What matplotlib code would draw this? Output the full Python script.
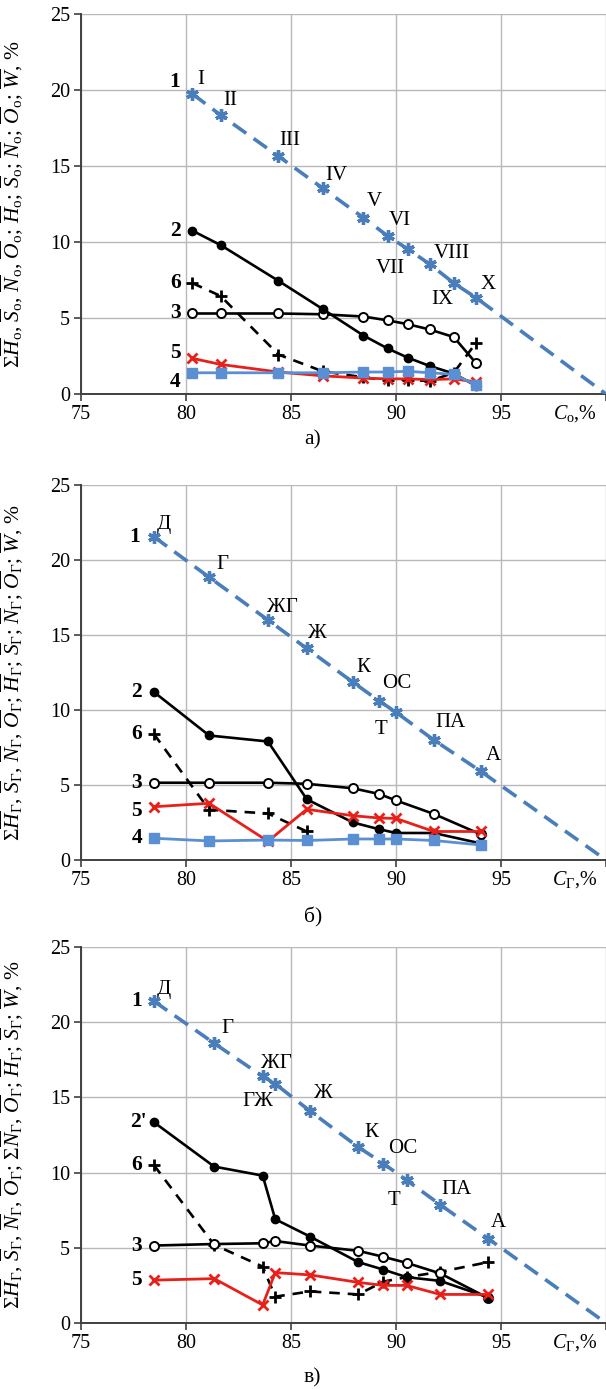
import matplotlib
matplotlib.use('Agg')
import matplotlib.pyplot as plt

plt.rcParams['font.family'] = ['Liberation Serif', 'DejaVu Serif']
plt.rcParams['mathtext.fontset'] = 'custom'
plt.rcParams['mathtext.rm'] = 'Liberation Serif'
plt.rcParams['mathtext.it'] = 'Liberation Serif:italic'
plt.rcParams['mathtext.bf'] = 'Liberation Serif:bold'

# ---- panel a) : C_o, samples I..X
x_a = [80.3, 81.65, 84.4, 86.5, 88.45, 89.6, 90.55, 91.6, 92.75, 93.8]
names_a = ['I', 'II', 'III', 'IV', 'V', 'VI', 'VII', 'VIII', 'IX', 'X']
y1_a = [19.75, 18.35, 15.65, 13.55, 11.6, 10.4, 9.55, 8.55, 7.3, 6.35]
y2_a = [10.75, 9.8, 7.45, 5.6, 3.85, 3.0, 2.4, 1.85, 1.35, 0.55]
y3_a = [5.3, 5.3, 5.3, 5.25, 5.1, 4.85, 4.6, 4.25, 3.75, 2.05]
y4_a = [1.4, 1.4, 1.4, 1.4, 1.45, 1.45, 1.5, 1.4, 1.3, 0.6]
y5_a = [2.35, 1.95, 1.45, 1.2, 1.05, 1.0, 1.0, 0.95, 1.0, 0.8]
y6_a = [7.3, 6.45, 2.6, 1.5, 1.1, 0.9, 0.95, 0.85, 1.4, 3.35]

# ---- panel б) : C_г, coal grades
x_b = [78.47, 81.1, 83.9, 85.75, 87.95, 89.2, 90.0, 91.8, 94.05]
names_b = ['Д', 'Г', 'ЖГ', 'Ж', 'К', 'ОС', 'Т', 'ПА', 'А']
y1_b = [21.55, 18.85, 16.0, 14.1, 11.85, 10.6, 9.85, 8.0, 5.9]
y2_b = [11.2, 8.3, 7.9, 4.05, 2.5, 2.05, 1.8, 1.8, 1.1]
y3_b = [5.15, 5.15, 5.15, 5.08, 4.78, 4.4, 3.97, 3.07, 1.7]
y4_b = [1.45, 1.27, 1.33, 1.3, 1.4, 1.4, 1.4, 1.3, 1.0]
y5_b = [3.55, 3.78, 1.25, 3.38, 2.95, 2.8, 2.77, 1.9, 1.9]
x6_b = [78.47, 81.1, 83.9, 85.75]
y6_b = [8.4, 3.35, 3.1, 1.9]

# ---- panel в) : C_г, coal grades incl. ГЖ
x_c = [78.47, 81.34, 83.65, 84.25, 85.9, 88.2, 89.4, 90.5, 92.1, 94.4]
names_c = ['Д', 'Г', 'ЖГ', 'ГЖ', 'Ж', 'К', 'ОС', 'Т', 'ПА', 'А']
y1_c = [21.4, 18.6, 16.4, 15.9, 14.1, 11.7, 10.6, 9.5, 7.87, 5.6]
y2_c = [13.35, 10.4, 9.8, 6.9, 5.75, 4.05, 3.55, 3.05, 2.8, 1.7]
y3_c = [5.15, 5.25, 5.3, 5.45, 5.15, 4.8, 4.4, 4.0, 3.3, 1.65]
y5_c = [2.85, 2.95, 1.2, 3.35, 3.2, 2.7, 2.5, 2.5, 1.9, 1.9]
y6_c = [10.5, 5.2, 3.75, 1.75, 2.1, 1.9, 2.75, 3.05, 3.4, 4.05]

# end of the dashed line 1 (C = 100 %)
end_x, end_y = 100, 0

BLUE = '#4a7ebb'
BLUE4 = '#5b8fd3'
RED = '#e8201a'

# label offsets in pixels (dx, dy) for the sample names
offs_a = [(8, 14), (10, 15), (11, 16), (14, 13), (11, 16), (12, 15), (-17, -20), (22, 11), (-11, -16), (12, 13)]
offs_b = [(10, 12), (13, 13), (15, 12), (11, 15), (10, 15), (18, 17), (-15, -17), (17, 17), (12, 16)]
offs_c = [(10, 12), (13, 15), (14, 13), (-17, -18), (13, 17), (13, 15), (19, 15), (-13, -20), (16, 15), (10, 16)]


def sub(letter, s):
    return r'$\overline{%s}_{\mathrm{%s}}$' % (letter, s)


fig = plt.figure(figsize=(6.06, 13.9), dpi=100)
L, W = 0.1337, 0.8663
ax_a = fig.add_axes([L, 0.7165, W, 0.2734])
ax_b = fig.add_axes([L, 0.3813, W, 0.2698])
ax_c = fig.add_axes([L, 0.0482, W, 0.2705])


def setup(ax, xsub, ylabel):
    ax.set_xlim(75, 100)
    ax.set_ylim(0, 25)
    ax.set_xticks([75, 80, 85, 90, 95, 100])
    ax.set_xticklabels(['75', '80', '85', '90', '95', ''])
    ax.set_yticks([0, 5, 10, 15, 20, 25])
    ax.grid(True, color='#b8b8b8', lw=1.0)
    ax.set_axisbelow(True)
    for s in ['top', 'right']:
        ax.spines[s].set_visible(False)
    for s in ['left', 'bottom']:
        ax.spines[s].set_color('#404040')
        ax.spines[s].set_linewidth(1.4)
    ax.tick_params(direction='out', length=5, width=1.2, color='#404040',
                   labelsize=14.5, pad=3)
    ax.annotate(r'$C_{\mathrm{%s}}$' % xsub + ',%', xy=(98.5, 0),
                xycoords='data', xytext=(0, -9), textcoords='offset pixels',
                ha='center', va='top', fontsize=14.5)
    ax.set_ylabel(ylabel, fontsize=15.5, labelpad=0)
    ax.yaxis.set_label_coords(-0.107, 0.5)


def line1(ax, xs, ys, names, offs):
    ax.plot(list(xs) + [end_x], list(ys) + [end_y], color=BLUE, lw=2.6,
            ls=(0, (4.5, 2.5)), zorder=6)
    ax.plot(xs, ys, ls='none', marker=(6, 2, 0), ms=9, mew=2.4,
            color=BLUE, zorder=7)
    for x, y, n, o in zip(xs, ys, names, offs):
        ax.annotate(n, (x, y), xytext=o, textcoords='offset pixels',
                    ha='center', va='center', fontsize=15)


def num(ax, text, x, y, dy=0, dx=-17):
    ax.annotate(text, (x, y), xytext=(dx, dy), textcoords='offset pixels',
                ha='center', va='center', fontsize=15.5, fontweight='bold')


def black_solid(ax, xs, ys):
    ax.plot(xs, ys, color='black', lw=1.9, marker='o', ms=6,
            mfc='black', mec='black', zorder=4)


def black_open(ax, xs, ys):
    ax.plot(xs, ys, color='black', lw=1.9, marker='o', ms=6.5,
            mfc='white', mec='black', mew=1.4, zorder=4)


def black_dash(ax, xs, ys):
    ax.plot(xs, ys, color='black', lw=1.9, ls=(0, (4, 3)), marker='+',
            ms=9, mew=2, zorder=3)


def red(ax, xs, ys):
    ax.plot(xs, ys, color=RED, lw=2.0, marker='x', ms=7, mew=2, zorder=5)


def blue_sq(ax, xs, ys):
    ax.plot(xs, ys, color=BLUE4, lw=2.0, marker='s', ms=6.5,
            mfc=BLUE4, mec=BLUE4, zorder=5)


# a)
lab_a = (r'$\Sigma\overline{H}_{\mathrm{o}}$, ' + sub('S', 'o') + ', ' + sub('N', 'o') + ', '
         + sub('O', 'o') + '; ' + sub('H', 'o') + '; ' + sub('S', 'o') + '; '
         + sub('N', 'o') + '; ' + sub('O', 'o') + r'; $\overline{W}$, %')
setup(ax_a, 'o', lab_a)
black_dash(ax_a, x_a, y6_a)
black_open(ax_a, x_a, y3_a)
black_solid(ax_a, x_a, y2_a)
red(ax_a, x_a, y5_a)
blue_sq(ax_a, x_a, y4_a)
line1(ax_a, x_a, y1_a, names_a, offs_a)
num(ax_a, '1', x_a[0], y1_a[0], 12, -18)
num(ax_a, '2', x_a[0], y2_a[0])
num(ax_a, '6', x_a[0], y6_a[0])
num(ax_a, '3', x_a[0], y3_a[0])
num(ax_a, '5', x_a[0], y5_a[0], 5)
num(ax_a, '4', x_a[0], y4_a[0], -9)

# б)
lab_b = (r'$\Sigma\overline{H}_{\mathrm{Г}}$, ' + sub('S', 'Г') + ', ' + sub('N', 'Г') + ', '
         + sub('O', 'Г') + '; ' + sub('H', 'Г') + '; ' + sub('S', 'Г') + '; '
         + sub('N', 'Г') + '; ' + sub('O', 'Г') + r'; $\overline{W}$, %')
setup(ax_b, 'Г', lab_b)
black_dash(ax_b, x6_b, y6_b)
black_open(ax_b, x_b, y3_b)
black_solid(ax_b, x_b, y2_b)
red(ax_b, x_b, y5_b)
blue_sq(ax_b, x_b, y4_b)
line1(ax_b, x_b, y1_b, names_b, offs_b)
num(ax_b, '1', x_b[0], y1_b[0], 0, -19)
num(ax_b, '2', x_b[0], y2_b[0])
num(ax_b, '6', x6_b[0], y6_b[0])
num(ax_b, '3', x_b[0], y3_b[0])
num(ax_b, '5', x_b[0], y5_b[0], -4)
num(ax_b, '4', x_b[0], y4_b[0])

# в)
lab_c = (r'$\Sigma\overline{H}_{\mathrm{Г}}$, ' + sub('S', 'Г') + ', ' + sub('N', 'Г') + ', '
         + sub('O', 'Г') + r'; $\Sigma\overline{N}_{\mathrm{Г}}$, ' + sub('O', 'Г') + '; '
         + sub('H', 'Г') + '; ' + sub('S', 'Г') + r'; $\overline{W}$, %')
setup(ax_c, 'Г', lab_c)
black_dash(ax_c, x_c, y6_c)
black_open(ax_c, x_c, y3_c)
black_solid(ax_c, x_c, y2_c)
red(ax_c, x_c, y5_c)
line1(ax_c, x_c, y1_c, names_c, offs_c)
num(ax_c, '1', x_c[0], y1_c[0], 0, -17)
num(ax_c, "2'", x_c[0], y2_c[0], 0, -15)
num(ax_c, '6', x_c[0], y6_c[0])
num(ax_c, '3', x_c[0], y3_c[0])
num(ax_c, '5', x_c[0], y5_c[0])

fig.text(0.516, 1 - 440 / 1390, 'а)', ha='center', va='center', fontsize=15.5)
fig.text(0.516, 1 - 917 / 1390, 'б)', ha='center', va='center', fontsize=15.5)
fig.text(0.516, 1 - 1378 / 1390, 'в)', ha='center', va='center', fontsize=15.5)

fig.savefig('out.png', dpi=100)
